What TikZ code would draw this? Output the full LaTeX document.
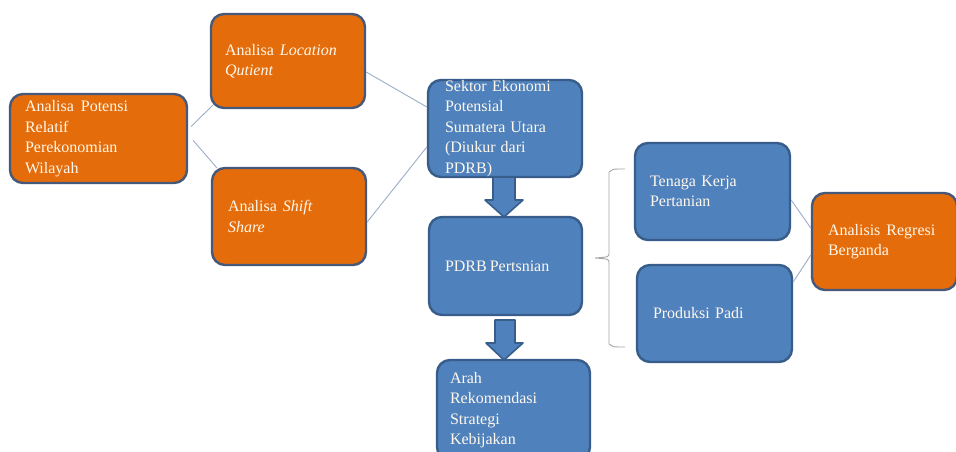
\documentclass[tikz,border=0pt]{standalone}
\usepackage{fontspec}
\setmainfont{Liberation Serif}
\definecolor{boxorange}{HTML}{E46C0A}
\definecolor{boxblue}{HTML}{4F81BD}
\definecolor{bluebord}{HTML}{385D8A}
\definecolor{orangebord}{HTML}{46597A}
\definecolor{linkcol}{HTML}{9AAFC8}
\definecolor{bracecol}{HTML}{A6A6A6}
\definecolor{txtcol}{HTML}{FFF8EC}
\tikzset{
  basebox/.style={rounded corners=13pt, line width=2.4pt, text=txtcol,
    font=\fontsize{16pt}{20.5pt}\selectfont, align=left, inner ysep=0pt, anchor=center},
  orangebox/.style={basebox, fill=boxorange, draw=orangebord},
  bluebox/.style={basebox, fill=boxblue, draw=bluebord},
  link/.style={draw=linkcol, line width=0.9pt},
  blockarrow/.style={fill=boxblue, draw=bluebord, line width=1.6pt, line join=round},
}
\begin{document}
\begin{tikzpicture}[x=1pt,y=-1pt]
\useasboundingbox (0,0) rectangle (956,452);
\clip (0,0) rectangle (956,452);
\fill[white] (0,0) rectangle (956,452);

\node[orangebox, minimum width=177pt, minimum height=89pt, text width=147pt, inner xsep=15pt] (pot) at (98.5,138.5)
  {Analisa\hspace{7pt}Potensi\\Relatif\\Perekonomian\\Wilayah};
\node[orangebox, minimum width=154pt, minimum height=94pt, text width=126pt, inner xsep=14pt] (lq) at (288,61)
  {Analisa\hspace{6pt}\textit{Location}\\\textit{Qutient}};
\node[orangebox, minimum width=154pt, minimum height=97pt, text width=122pt, inner xsep=16pt] (ss) at (289,216.5)
  {Analisa\hspace{6pt}\textit{Shift}\\\textit{Share}};
\node[bluebox, minimum width=154pt, minimum height=97pt, text width=120pt, inner xsep=17pt] (sek) at (505,128.5)
  {Sektor Ekonomi\\Potensial\\Sumatera\hspace{5pt}Utara\\(Diukur\hspace{5pt}dari\\PDRB)};
\node[bluebox, minimum width=153pt, minimum height=98pt, text width=121pt, inner xsep=16pt] (pdrb) at (505.5,266)
  {PDRB\hspace{3pt}Pertsnian};
\node[bluebox, minimum width=153pt, minimum height=100pt, text width=127pt, inner xsep=13pt] (arah) at (513.5,410)
  {Arah\\Rekomendasi\\Strategi\\Kebijakan};
\node[bluebox, minimum width=155pt, minimum height=97pt, text width=125pt, inner xsep=15pt] (tk) at (712.5,191.5)
  {Tenaga Kerja\\Pertanian};
\node[bluebox, minimum width=155pt, minimum height=97pt, text width=123pt, inner xsep=16pt] (padi) at (714.5,313.5)
  {Produksi Padi};
\node[orangebox, minimum width=145pt, minimum height=97pt, text width=113pt, inner xsep=16pt] (reg) at (884.5,241.5)
  {Analisis\hspace{6pt}Regresi\\Berganda};

% thin connectors
\draw[link] ([xshift=3pt,yshift=12pt]pot.east) -- ([xshift=3pt,yshift=4pt]lq.south west);
\draw[link] ([xshift=5pt,yshift=-2pt]pot.east) -- ([xshift=6pt,yshift=-1pt]ss.north west);
\draw[link] ([yshift=-11pt]lq.east) -- ([yshift=21.5pt]sek.west);
\draw[link] ([yshift=-5.5pt]ss.east) -- ([yshift=-18.5pt]sek.west);
\draw[link] ([yshift=-8.5pt]tk.east) -- ([yshift=13.5pt]reg.west);
\draw[link] ([yshift=31.5pt]padi.east) -- ([yshift=-13.5pt]reg.west);

% block arrows
\draw[blockarrow] (493,177) -- (515,177) -- (515,200) -- (523,200) -- (504,217) -- (485,200) -- (493,200) -- cycle;
\draw[blockarrow] (495,320) -- (515,320) -- (515,343) -- (523,343) -- (504,360) -- (486,343) -- (495,343) -- cycle;

% brace
\draw[bracecol, line width=0.9pt] (625,169) .. controls (612,169) .. (609,172) -- (609,253)
  .. controls (609,257) .. (595,258) .. controls (609,259) .. (609,263) -- (609,344)
  .. controls (612,347) .. (625,347);
\end{tikzpicture}
\end{document}
